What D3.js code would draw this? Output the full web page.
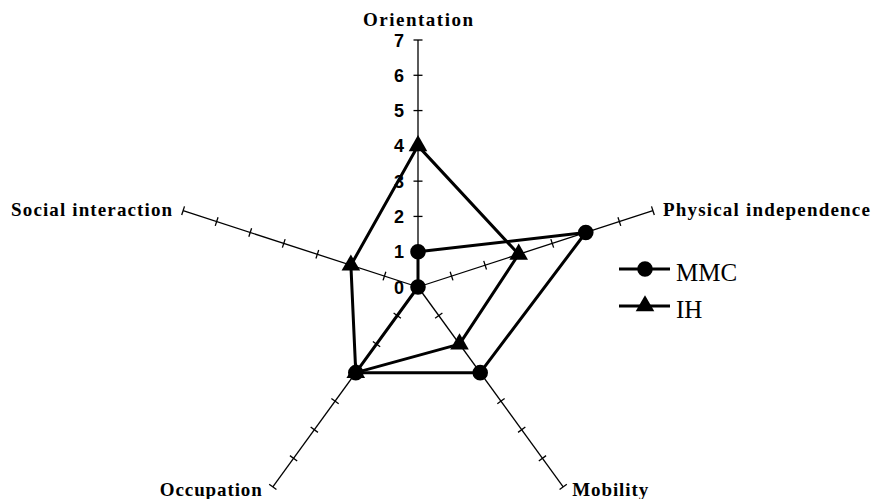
<!DOCTYPE html>
<html><head><meta charset="utf-8">
<script src="https://cdn.jsdelivr.net/npm/d3@7"></script>
<style>body{margin:0;background:#fff}</style>
</head><body>
<svg id="c" width="873" height="499"></svg>
<script>
const axesNames = ["Orientation","Physical independence","Mobility","Occupation","Social interaction"];
const tickValues = [0,1,2,3,4,5,6,7];
const seriesNames = ["MMC","IH"];
const mmcValues = [1,5,3,3,0];
const ihValues = [4,3,2,3,2];

const svg = d3.select("#c");
const cx = 418, cy = 287, R = 247;
const r = d3.scaleLinear().domain([0,7]).range([0,R]);
const ang = d3.scaleLinear().domain([0,axesNames.length]).range([0,2*Math.PI]);
const pt = (i,v)=>{const a=ang(i);return [cx+Math.sin(a)*r(v), cy-Math.cos(a)*r(v)];};

const g = svg.append("g");
// spokes and ticks
axesNames.forEach((name,i)=>{
  const a=ang(i);
  const [x1,y1]=pt(i,0),[x2,y2]=pt(i,7);
  g.append("line").attr("x1",x1).attr("y1",y1).attr("x2",x2).attr("y2",y2).attr("stroke","#000").attr("stroke-width",1.3);
  const px=Math.cos(a), py=Math.sin(a);
  tickValues.slice(1).forEach(t=>{
    const [x,y]=pt(i,t);
    g.append("line").attr("x1",x-px*4.5).attr("y1",y-py*4.5).attr("x2",x+px*4.5).attr("y2",y+py*4.5).attr("stroke","#000").attr("stroke-width",1.3);
  });
});
// tick labels on first axis
tickValues.forEach(t=>{
  const [x,y]=pt(0,t);
  g.append("text").attr("x",x-14).attr("y",y+6.5).attr("text-anchor","end")
   .attr("font-family","Liberation Sans, Arial, sans-serif").attr("font-weight","bold").attr("font-size",18).text(t);
});
// axis labels (positions relative to spoke ends, widths to match reference)
const labelWidths = [110,207,76,102,161];
const lab = (i,x,y,anchor)=>g.append("text").attr("x",x).attr("y",y).attr("text-anchor",anchor)
  .attr("font-family","Liberation Serif, Times New Roman, serif").attr("font-weight","bold").attr("font-size",19)
  .attr("textLength",labelWidths[i]).attr("lengthAdjust","spacing").text(axesNames[i]);
{const [x,y]=pt(0,7); lab(0,x,y-14,"middle");}
{const [x,y]=pt(1,7); lab(1,x+10,y+5,"start");}
{const [x,y]=pt(2,7); lab(2,x+9,y+9,"start");}
{const [x,y]=pt(3,7); lab(3,x-11,y+9,"end");}
{const [x,y]=pt(4,7); lab(4,x-11,y+5,"end");}

// series
const line = d3.line().curve(d3.curveLinearClosed);
const data = [mmcValues, ihValues];
data.forEach((vals,si)=>{
  const pts = vals.map((v,i)=>pt(i,v));
  g.append("path").attr("d",line(pts)).attr("fill","none").attr("stroke","#000").attr("stroke-width",3).attr("stroke-linejoin","round");
});
const circ = d3.symbol().type(d3.symbolCircle).size(190);
const tri = d3.symbol().type(d3.symbolTriangle).size(150);
data.forEach((vals,si)=>{
  vals.forEach((v,i)=>{
    const [x,y]=pt(i,v);
    g.append("path").attr("d",si===0?circ():tri()).attr("transform",`translate(${x},${y})`).attr("fill","#000");
  });
});
// legend
seriesNames.forEach((s,si)=>{
  const y = 269 + si*37;
  g.append("line").attr("x1",619).attr("x2",670).attr("y1",y).attr("y2",y).attr("stroke","#000").attr("stroke-width",3);
  g.append("path").attr("d",si===0?circ():tri()).attr("transform",`translate(645,${y})`).attr("fill","#000");
  g.append("text").attr("x",676).attr("y",y+12).attr("font-family","Liberation Serif, Times New Roman, serif").attr("font-size",25).text(s);
});
</script>
</body></html>
